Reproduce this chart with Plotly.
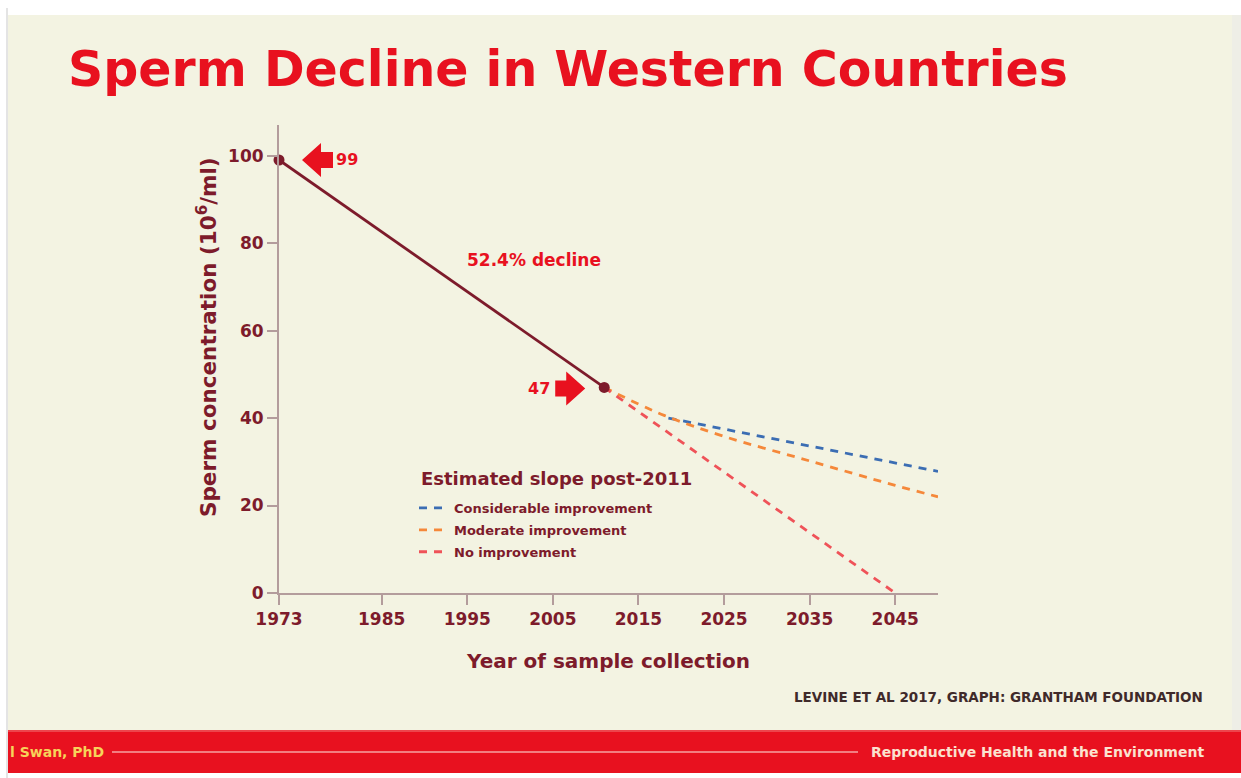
import plotly.graph_objects as go

# ---------------- data ----------------
years_obs = [1973, 2011]
conc_obs = [99, 47]
decline_pct = 52.4

years_considerable = [2018.5, 2050]
conc_considerable = [40.0, 27.8]

years_moderate = [2011, 2015, 2018, 2025, 2035, 2045, 2050]
conc_moderate = [47, 43.2, 40.6, 35.8, 30.2, 24.6, 22.0]

years_none = [2011, 2045]
conc_none = [47, 0]

x_ticks = [1973, 1985, 1995, 2005, 2015, 2025, 2035, 2045]
y_ticks = [0, 20, 40, 60, 80, 100]

# ---------------- styling ----------------
W, H = 1241, 778
L, R, T, B = 279, 938, 125, 593
CREAM = "#f3f3e2"
MAROON = "#7d1b2b"
RED = "#e8111f"
AXIS = "#b39c9c"
FONT = "DejaVu Sans"


def xp(px):
    return (px - L) / (R - L)


def yp(py):
    return (B - py) / (B - T)


fig = go.Figure()

fig.add_trace(go.Scatter(
    x=years_considerable, y=conc_considerable, mode="lines",
    name="Considerable improvement", legendgroup="a",
    line=dict(color="#3b6db3", width=2.8, dash="8px,7px"),
))
fig.add_trace(go.Scatter(
    x=years_moderate, y=conc_moderate, mode="lines",
    name="Moderate improvement", line_shape="spline", legendgroup="b",
    line=dict(color="#f5883a", width=2.8, dash="8px,7px"),
))
fig.add_trace(go.Scatter(
    x=years_none, y=conc_none, mode="lines",
    name="No improvement", legendgroup="c",
    line=dict(color="#ef5258", width=2.8, dash="8px,7px"),
))
fig.add_trace(go.Scatter(
    x=years_obs, y=conc_obs, mode="lines+markers",
    showlegend=False, cliponaxis=False,
    line=dict(color=MAROON, width=2.8),
    marker=dict(color=MAROON, size=11),
))

shapes = []
# page background pieces
shapes.append(dict(type="rect", xref="paper", yref="paper", layer="below",
                   x0=xp(8), x1=xp(1232), y0=yp(730), y1=yp(15),
                   fillcolor=CREAM, line_width=0))
shapes.append(dict(type="rect", xref="paper", yref="paper", layer="below",
                   x0=xp(1232), x1=xp(1241), y0=yp(730), y1=yp(15),
                   fillcolor="#eeeee6", line_width=0))
shapes.append(dict(type="line", xref="paper", yref="paper", layer="below",
                   x0=xp(7), x1=xp(7), y0=yp(778), y1=yp(8),
                   line=dict(color="#c9c9c9", width=1)))
# footer band
shapes.append(dict(type="rect", xref="paper", yref="paper", layer="below",
                   x0=xp(8), x1=xp(1241), y0=yp(773), y1=yp(730),
                   fillcolor=RED, line_width=0))
shapes.append(dict(type="line", xref="paper", yref="paper", layer="below",
                   x0=xp(8), x1=xp(1241), y0=yp(731), y1=yp(731),
                   line=dict(color="#f27a7a", width=1)))
shapes.append(dict(type="line", xref="paper", yref="paper", layer="below",
                   x0=xp(112), x1=xp(858), y0=yp(752), y1=yp(752),
                   line=dict(color="#f6a3a3", width=1.5)))

# block arrows pointing at the two observed values (pixel-sized, anchored to data)
shapes.append(dict(type="path", xref="x", yref="y", xsizemode="pixel", ysizemode="pixel",
                   xanchor=years_obs[0], yanchor=conc_obs[0],
                   path="M23,0 L42,17 L42,8 L54,8 L54,-8 L42,-8 L42,-17 Z",
                   fillcolor=RED, line_width=0))
shapes.append(dict(type="path", xref="x", yref="y", xsizemode="pixel", ysizemode="pixel",
                   xanchor=years_obs[1], yanchor=conc_obs[1],
                   path="M-19,-1 L-38,16 L-38,7 L-49,7 L-49,-9 L-38,-9 L-38,-18 Z",
                   fillcolor=RED, line_width=0))


def ann(text, x, y, size, color, xanchor="center", **kw):
    d = dict(text=f"<b>{text}</b>", xref="paper", yref="paper", x=x, y=y,
             xanchor=xanchor, yanchor="middle", showarrow=False,
             font=dict(family=FONT, size=size, color=color))
    d.update(kw)
    return d


annotations = [
    ann("Sperm Decline in Western Countries", xp(66), yp(70), 49, RED, xanchor="left"),
    dict(text=f"<b>{conc_obs[0]}</b>", x=years_obs[0], y=conc_obs[0], xshift=68, yshift=0,
         xanchor="center", yanchor="middle", showarrow=False,
         font=dict(family=FONT, size=16, color=RED)),
    dict(text=f"<b>{conc_obs[1]}</b>", x=years_obs[1], y=conc_obs[1], xshift=-65, yshift=-1,
         xanchor="center", yanchor="middle", showarrow=False,
         font=dict(family=FONT, size=16, color=RED)),
    ann(f"{decline_pct}% decline", xp(534), yp(260), 17, RED),
    ann("Sperm concentration (10<sup>6</sup>/ml)", xp(207), yp(337), 21.5, MAROON, textangle=-90),
    ann("Estimated slope post-2011", xp(419), yp(478), 18, MAROON, xanchor="left"),
    ann("LEVINE ET AL 2017, GRAPH: GRANTHAM FOUNDATION", xp(1205), yp(697), 13.5, "#3f2a2a",
        xanchor="right"),
    ann("l Swan, PhD", xp(8), yp(752), 14, "#f7d35a", xanchor="left"),
    ann("Reproductive Health and the Environment", xp(1206), yp(752), 14, "#fbe2cf",
        xanchor="right"),
]

fig.update_layout(
    width=W, height=H,
    margin=dict(l=L, r=W - R, t=T, b=H - B, pad=0),
    paper_bgcolor="white",
    plot_bgcolor="rgba(0,0,0,0)",
    shapes=shapes,
    annotations=annotations,
    font=dict(family=FONT, color=MAROON),
    showlegend=True,
    legend=dict(
        x=xp(414), y=yp(493), xanchor="left", yanchor="top",
        bgcolor="rgba(0,0,0,0)",
        font=dict(family=FONT, size=13, color=MAROON, weight="bold"),
        itemwidth=30, tracegroupgap=2,
    ),
    xaxis=dict(
        range=[1973, 2050], tickvals=x_ticks, showgrid=False, zeroline=False,
        showline=True, linecolor=AXIS, linewidth=2,
        ticks="outside", ticklen=10, tickwidth=2, tickcolor=AXIS,
        tickfont=dict(family=FONT, size=17, color=MAROON, weight="bold"),
        title=dict(text="<b>Year of sample collection</b>", standoff=26,
                   font=dict(family=FONT, size=20, color=MAROON)),
    ),
    yaxis=dict(
        range=[0, 107], tickvals=y_ticks, showgrid=False, zeroline=False,
        showline=True, linecolor=AXIS, linewidth=2,
        ticks="outside", ticklen=10, tickwidth=2, tickcolor=AXIS,
        tickfont=dict(family=FONT, size=17, color=MAROON, weight="bold"),
    ),
)

fig.write_html("out.html", config={"displayModeBar": False},
               post_script="document.body.style.margin='0px';")
